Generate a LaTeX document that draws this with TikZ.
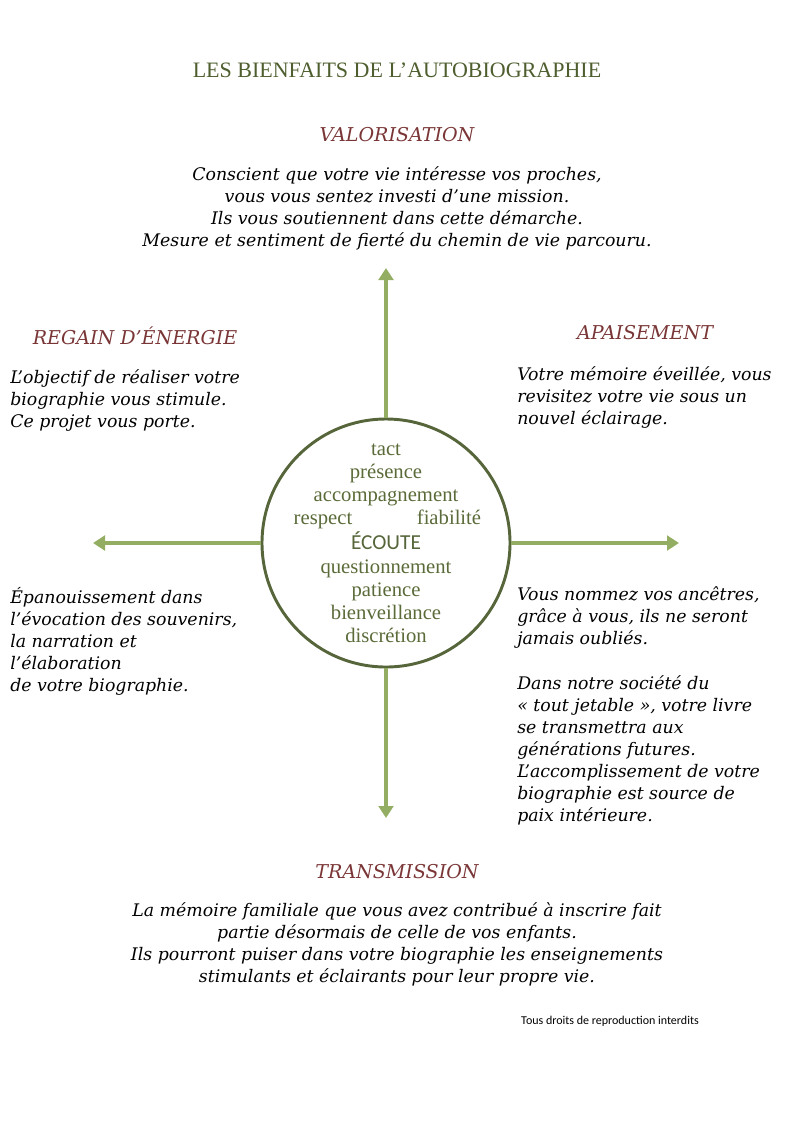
\documentclass[tikz,border=0pt]{standalone}
\usepackage{fontspec}
\setmainfont{Liberation Serif}
\newfontfamily\handfont{DejaVu Serif}
\newfontfamily\calfont{Carlito}
\usepackage{tikz}
\usetikzlibrary{arrows.meta}

\definecolor{titlegreen}{HTML}{4E5E2E}
\definecolor{headred}{HTML}{7A3636}
\definecolor{wordgreen}{HTML}{5A6A38}
\definecolor{ringgreen}{HTML}{56663A}
\definecolor{arrgreen}{HTML}{93AE62}

\begin{document}
\begin{tikzpicture}[x=0.75pt,y=-0.75pt]
		\tikzstyle{every node}=[inner sep=0pt]
		\tikzstyle{TitleSty}=[font=\fontsize{16.5}{19}\selectfont,text=titlegreen]
		\tikzstyle{HeadSty}=[font=\handfont\itshape\fontsize{14.3}{17}\selectfont,text=headred]
		\tikzstyle{BodySty}=[font=\handfont\itshape\fontsize{13}{16.5}\selectfont,
								  anchor=north west,
								  align=left]
		\tikzstyle{CentSty}=[font=\handfont\itshape\fontsize{13}{16.5}\selectfont,
								  anchor=north,
								  align=center]
		\tikzstyle{WordSty}=[font=\fontsize{15.5}{17}\selectfont,text=wordgreen,anchor=base]
		\tikzstyle{ArrSty}=[-{Triangle[length=9pt,width=11pt]},color=arrgreen,line width=3pt]

\useasboundingbox (0,0) rectangle (793,1122);

% Title
\node [TitleSty] (title) at (397,70) {LES BIENFAITS DE L’AUTOBIOGRAPHIE};

% Center circle
\node [circle,draw=ringgreen,line width=2.2pt,minimum size=186pt] (ecoute) at (386,543) {};

\node [WordSty] (tact) at (386,455) {tact};
\node [WordSty] (presence) at (386,478) {présence};
\node [WordSty] (accomp) at (386,501) {accompagnement};
\node [WordSty] (respect) at (323,524) {respect};
\node [WordSty] (fiab) at (449,524) {fiabilité};
\node [WordSty,font=\calfont\fontsize{16}{17}\selectfont,text=ringgreen] (ecoutew) at (386,549) {ÉCOUTE};
\node [WordSty] (quest) at (386,573) {questionnement};
\node [WordSty] (patience) at (386,596) {patience};
\node [WordSty] (bienv) at (386,619) {bienveillance};
\node [WordSty] (discr) at (386,642) {discrétion};

% Arrows
\coordinate (up) at (386,268);
\coordinate (down) at (386,818);
\coordinate (left) at (93,543);
\coordinate (right) at (679,543);

\draw [ArrSty] (ecoute.north) -- (up);
\draw [ArrSty] (ecoute.south) -- (down);
\draw [ArrSty] (ecoute.west) -- (left);
\draw [ArrSty] (ecoute.east) -- (right);

% Valorisation
\node [HeadSty] (valo) at (397,135) {VALORISATION};
\node [CentSty] (valotxt) at (397,166) {Conscient que votre vie intéresse vos proches,\\
	vous vous sentez investi d’une mission.\\
	Ils vous soutiennent dans cette démarche.\\
	Mesure et sentiment de fierté du chemin de vie parcouru.};

% Regain
\node [HeadSty] (regain) at (135,336) {REGAIN D’ÉNERGIE};
\node [BodySty] (regaintxt) at (10,369) {L’objectif de réaliser votre\\
	biographie vous stimule.\\
	Ce projet vous porte.};

% Apaisement
\node [HeadSty] (apais) at (645,333) {APAISEMENT};
\node [BodySty] (apaistxt) at (517,366) {Votre mémoire éveillée, vous\\
	revisitez votre vie sous un\\
	nouvel éclairage.};

% Lower left
\node [BodySty] (epan) at (10,587) {Épanouissement dans\\
	l’évocation des souvenirs,\\
	la narration et\\
	l’élaboration\\
	de votre biographie.};

% Lower right
\node [BodySty] (ancetres) at (517,586) {Vous nommez vos ancêtres,\\
	grâce à vous, ils ne seront\\
	jamais oubliés.};
\node [BodySty] (jetable) at (517,675) {Dans notre société du\\
	«~tout jetable~», votre livre\\
	se transmettra aux\\
	générations futures.\\
	L’accomplissement de votre\\
	biographie est source de\\
	paix intérieure.};

% Transmission
\node [HeadSty] (transm) at (397,872) {TRANSMISSION};
\node [CentSty] (transmtxt) at (397,902) {La mémoire familiale que vous avez contribué à inscrire fait\\
	partie désormais de celle de vos enfants.\\
	Ils pourront puiser dans votre biographie les enseignements\\
	stimulants et éclairants pour leur propre vie.};

\node [font=\calfont\fontsize{9}{10}\selectfont] (droits) at (610,1021) {Tous droits de reproduction interdits};

\end{tikzpicture}
\end{document}
